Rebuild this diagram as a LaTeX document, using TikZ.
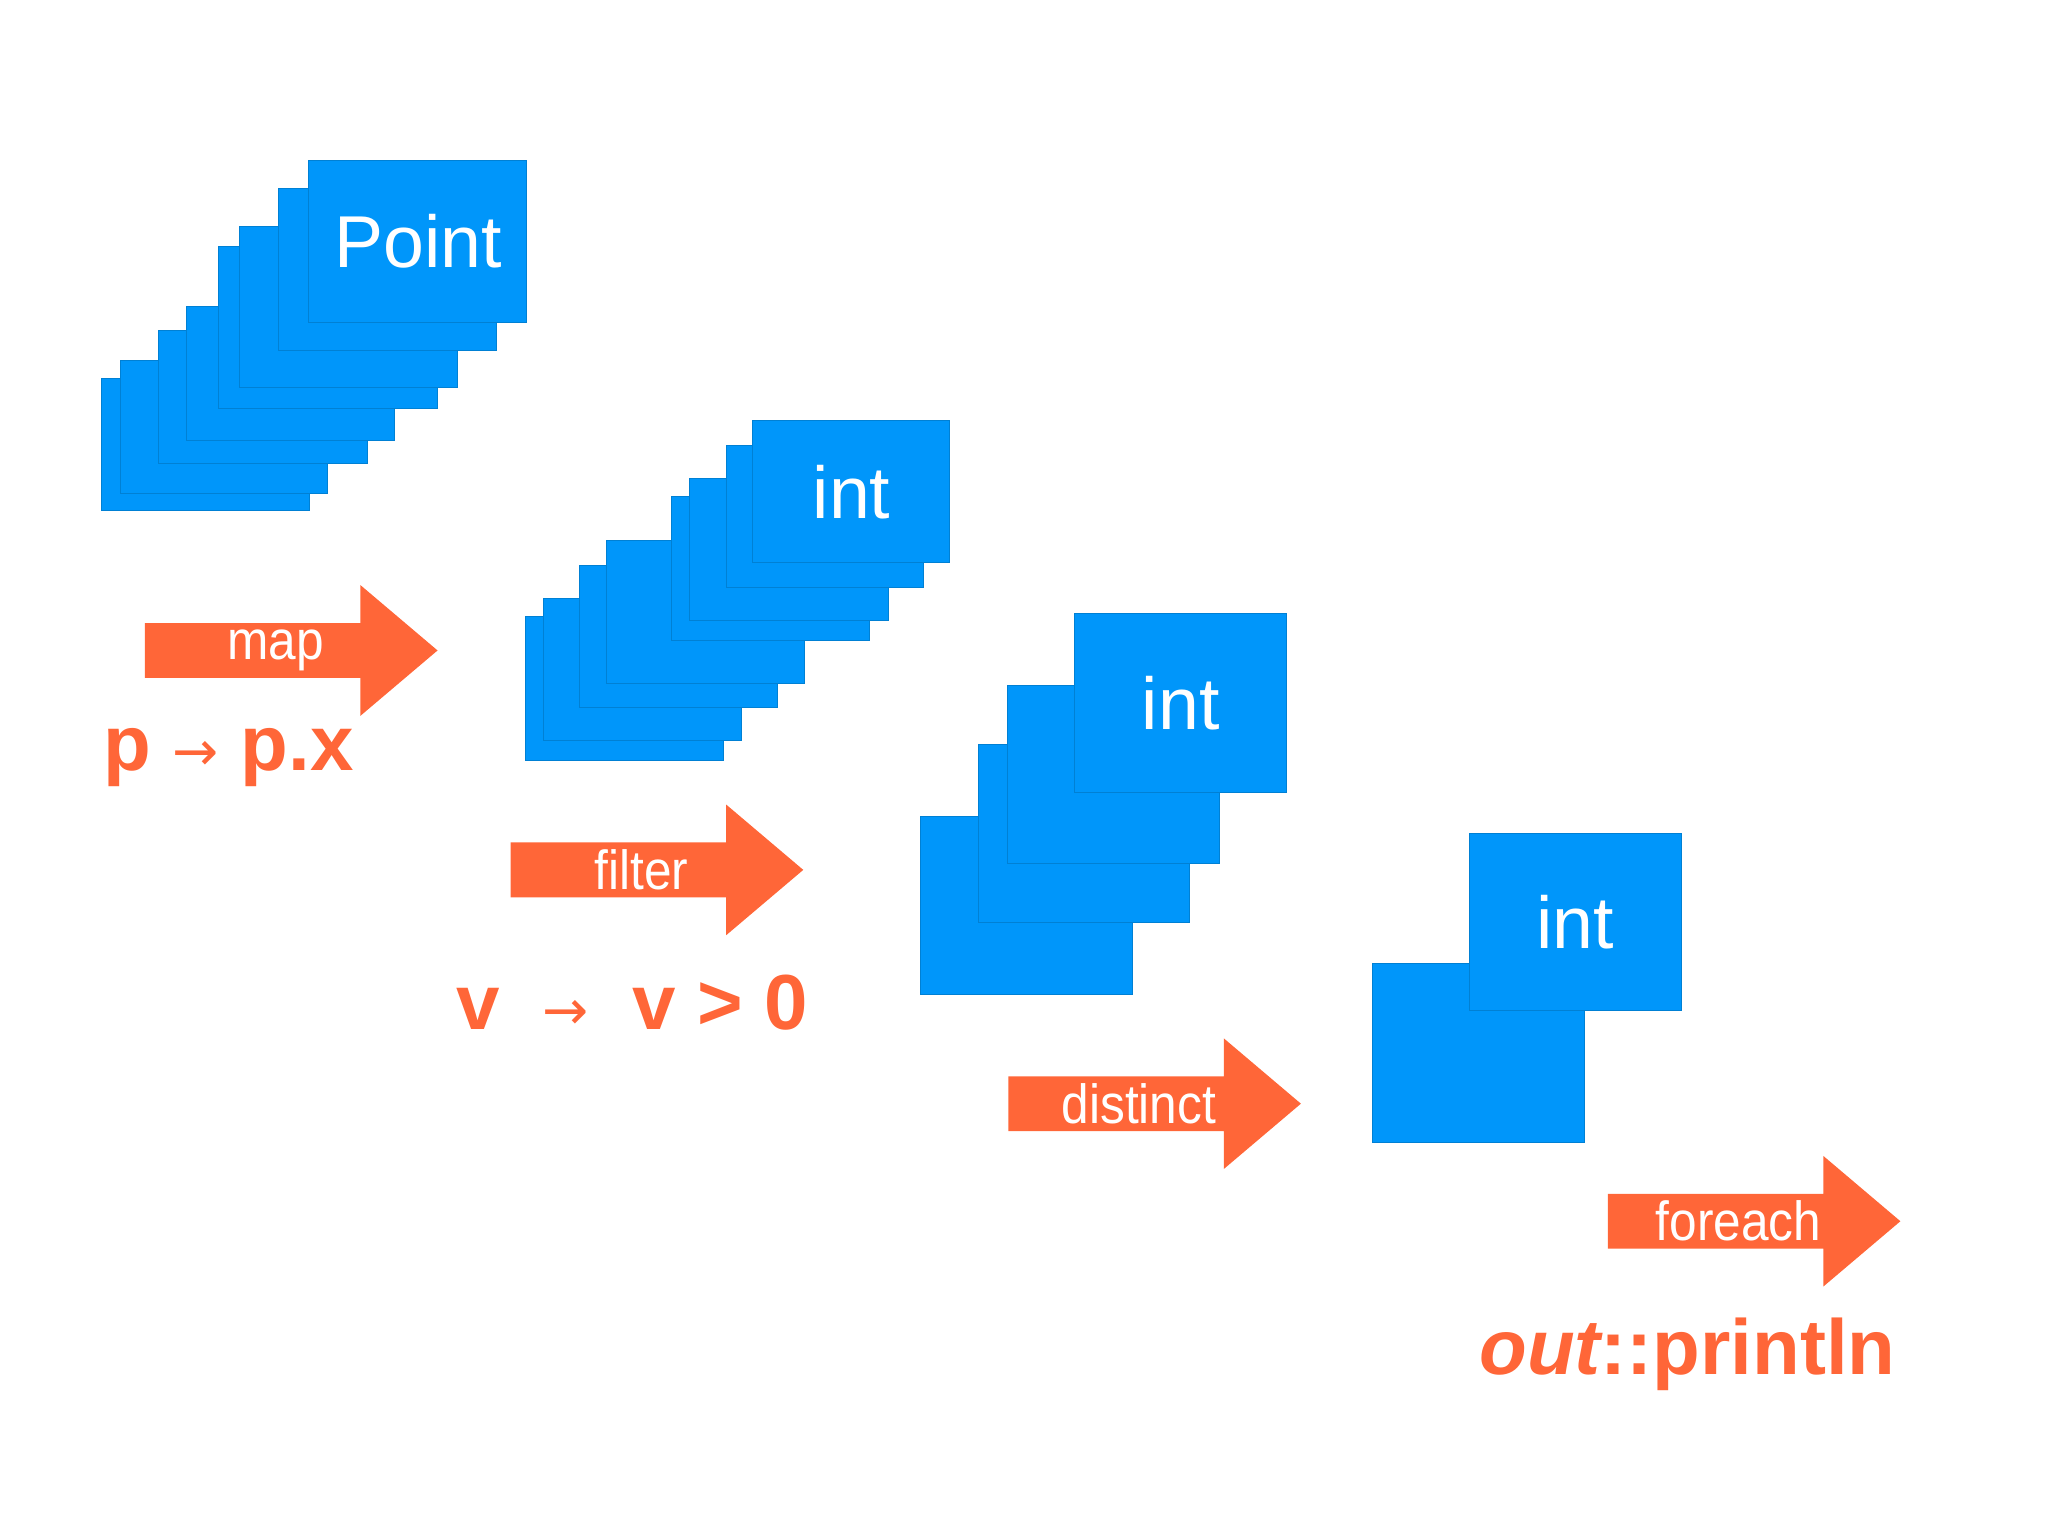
\documentclass[tikz,border=0pt]{standalone}
\usepackage{fontspec}
\setmainfont{Liberation Sans}
\definecolor{bl}{RGB}{0,150,250}
\definecolor{org}{RGB}{255,102,56}
\begin{document}
\begin{tikzpicture}[x=0.01cm,y=-0.01cm,
  card/.style={fill=bl,draw=bl!85!black,line width=0.2pt},
  arr/.style={fill=org,draw=none},
  alab/.style={text=white,font=\fontsize{12}{12}\selectfont,xscale=0.9},
  tlab/.style={text=white,font=\fontsize{16}{16}\selectfont},
  code/.style={text=org,font=\bfseries\fontsize{17}{17}\selectfont}]
\useasboundingbox (0,0) rectangle (1568,1175);
% Point stack
\foreach \l/\t/\r/\b in {78/290/237/391,92/276/251/378,121/253/281/355,143/235/302/337,167/189/335/313,183/173/350/297,213/144/380/268,236/123/403/247}
  \filldraw[card] (\l,\t) rectangle (\r,\b);
\node[tlab] (pt) at (320,185) {Point};
% int stack 1
\foreach \l/\t/\r/\b in {402/472/554/582,416/458/568/567,444/433/595/542,464/414/616/523,514/380/666/490,528/366/680/475,556/341/707/450,576/322/727/431}
  \filldraw[card] (\l,\t) rectangle (\r,\b);
\node[tlab] (i1) at (652,377) {int};
% distinct stack
\foreach \l/\t/\r/\b in {705/625/867/761,749/570/911/706,771/525/934/661,823/470/985/607}
  \filldraw[card] (\l,\t) rectangle (\r,\b);
\node[tlab] (i2) at (904,538) {int};
% final
\filldraw[card] (1051,738) rectangle (1213,875);
\filldraw[card] (1125,638) rectangle (1287,774);
\node[tlab] (i3) at (1206,706) {int};
% arrows
\foreach \x/\y/\n/\s in {111/498/map/map,391/666/filter/filter,772/845/distinct/distinct,1231/935/foreach/foreach}{
  \fill[arr] (\x,\y-21) -- (\x+165,\y-21) -- (\x+165,\y-50) -- (\x+224,\y) -- (\x+165,\y+50) -- (\x+165,\y+21) -- (\x,\y+21) -- cycle;
  \node[alab] (\n) at (\x+100,\y) {\s};
}
\node[code] (c1) at (175,580) {p {\fontspec{DejaVu Sans}\mdseries\fontsize{12}{12}\selectfont→} p.x};
\node[code] (c2) at (484,768) {v \ {\fontspec{DejaVu Sans}\mdseries\fontsize{12}{12}\selectfont→} \ v > 0};
\node[code] (c3) at (1292,1037) {\itshape out\upshape::println};
\end{tikzpicture}
\end{document}
